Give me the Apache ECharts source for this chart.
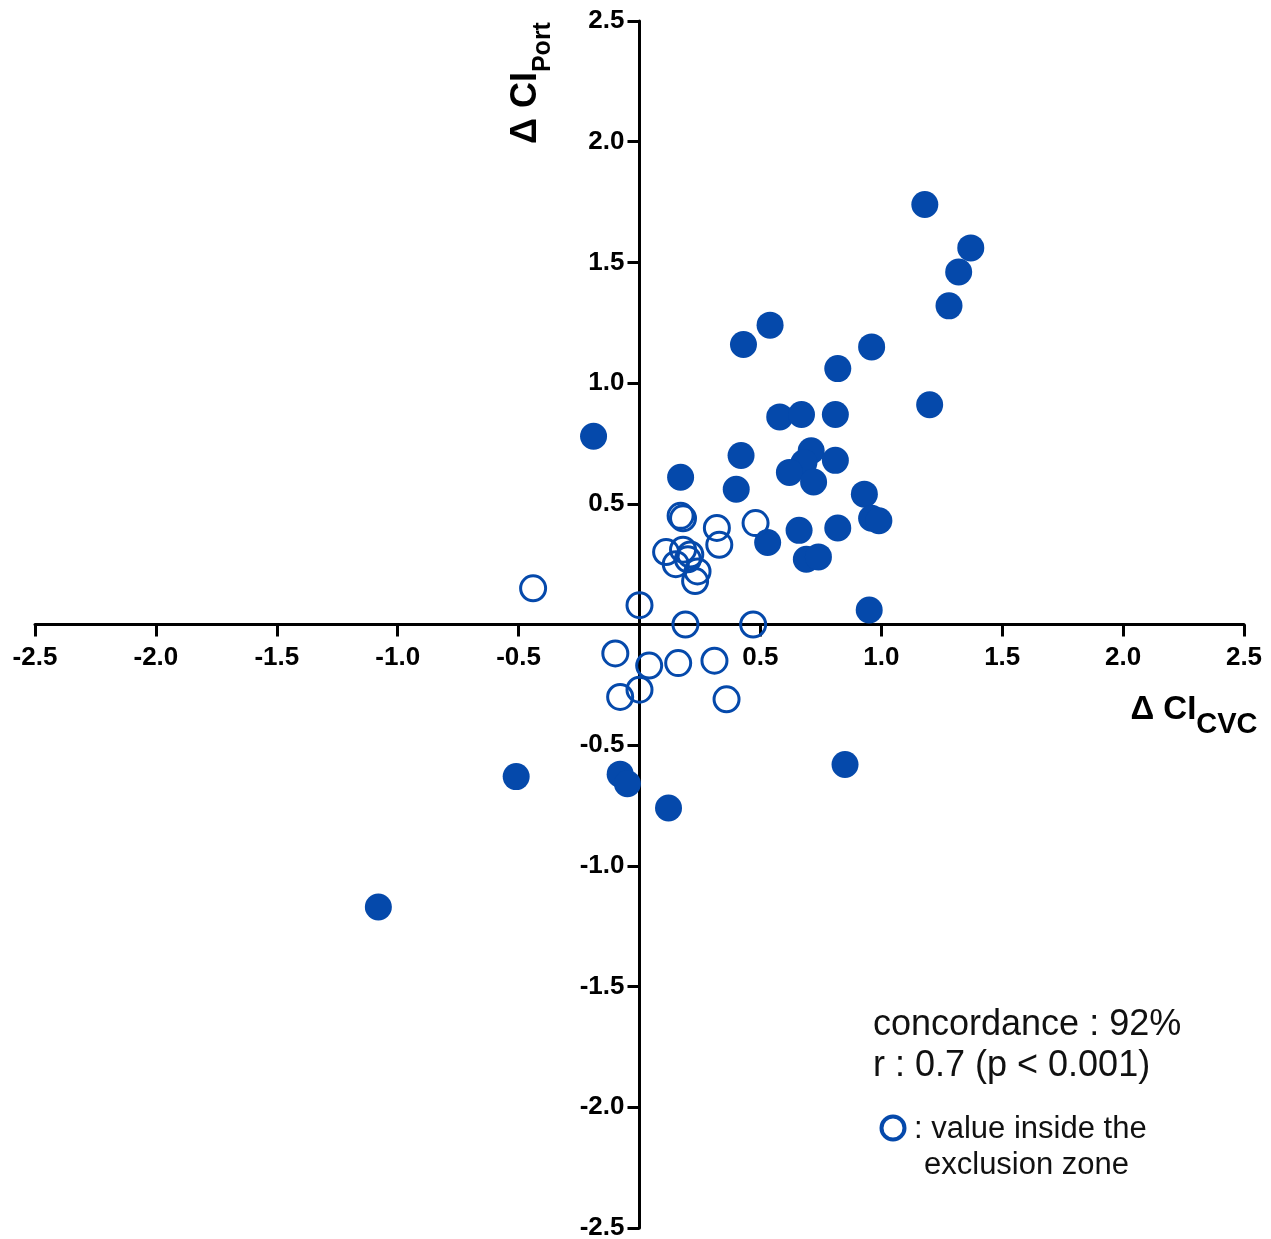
<!DOCTYPE html>
<html>
<head>
<meta charset="utf-8">
<script src="https://cdn.jsdelivr.net/npm/echarts@6/dist/echarts.min.js"></script>
<style>
html,body{margin:0;padding:0;background:#fff;}
#chart{width:1271px;height:1239px;}
</style>
</head>
<body>
<div id="chart"></div>
<script>
// Axis ticks
const xTicks = [-2.5, -2.0, -1.5, -1.0, -0.5, 0, 0.5, 1.0, 1.5, 2.0, 2.5];
const yTicks = [-2.5, -2.0, -1.5, -1.0, -0.5, 0, 0.5, 1.0, 1.5, 2.0, 2.5];

// Concordant changes outside the exclusion zone (filled dots): [ΔCI_CVC, ΔCI_Port]
const outsideZone = [
  [1.18, 1.74], [1.37, 1.56], [1.32, 1.46], [1.28, 1.32],
  [0.54, 1.24], [0.43, 1.16], [0.96, 1.15], [0.82, 1.06],
  [1.20, 0.91], [0.58, 0.86], [0.67, 0.87], [0.81, 0.87],
  [-0.19, 0.78], [0.42, 0.70], [0.71, 0.72], [0.81, 0.68],
  [0.68, 0.67], [0.62, 0.63], [0.72, 0.59], [0.17, 0.61],
  [0.40, 0.56], [0.93, 0.54], [0.96, 0.44], [0.99, 0.43],
  [0.82, 0.40], [0.66, 0.39], [0.53, 0.34], [0.69, 0.27],
  [0.74, 0.28], [0.95, 0.06],
  [-0.51, -0.63], [-0.08, -0.62], [-0.05, -0.66], [0.12, -0.76],
  [0.85, -0.58], [-1.08, -1.17]
];

// Values inside the exclusion zone (open circles)
const insideZone = [
  [-0.44, 0.15], [0.00, 0.08], [0.18, 0.44], [0.17, 0.45],
  [0.32, 0.40], [0.33, 0.33], [0.48, 0.42], [0.11, 0.30],
  [0.18, 0.31], [0.21, 0.29], [0.15, 0.25], [0.24, 0.22],
  [0.23, 0.18], [0.20, 0.27], [0.19, 0.00], [0.47, 0.00],
  [-0.10, -0.12], [0.04, -0.17], [0.16, -0.16], [0.31, -0.15],
  [0.00, -0.27], [-0.08, -0.30], [0.36, -0.31]
];

const annotations = ['concordance : 92%', 'r : 0.7 (p < 0.001)'];
const legendLines = [': value inside the', 'exclusion zone'];

const BLUE = '#0549ab';
const FONT = '"Liberation Sans", Arial, sans-serif';

const GRID = {left: 35, right: 27, top: 21, bottom: 11};
const W = 1271, H = 1239;
const plotW = W - GRID.left - GRID.right;
const plotH = H - GRID.top - GRID.bottom;

const chart = echarts.init(document.getElementById('chart'), null, {renderer: 'canvas'});

function fmt(v) {
  if (Math.abs(v) < 1e-9) return '';
  return v.toFixed(1);
}

const labelBase = {
  color: '#000', fontFamily: FONT, fontWeight: 'bold', fontSize: 26,
  formatter: fmt, showMinLabel: true, showMaxLabel: true
};

const axisCommon = {
  type: 'value',
  interval: 0.5,
  axisLine: {show: true, onZero: false, lineStyle: {color: '#000', width: 3}},
  axisTick: {show: true, length: 12, lineStyle: {color: '#000', width: 3}},
  splitLine: {show: false}
};

const option = {
  animation: false,
  backgroundColor: '#fff',
  grid: Object.assign({containLabel: false, outerBoundsMode: 'none'}, GRID),
  xAxis: Object.assign({}, axisCommon, {
    position: 'bottom',
    // move the axis up to y = 0 (middle of the symmetric range)
    offset: -plotH / 2,
    min: xTicks[0], max: xTicks[xTicks.length - 1],
    axisLabel: Object.assign({}, labelBase, {margin: 20})
  }),
  yAxis: Object.assign({}, axisCommon, {
    position: 'left',
    // move the axis right to x = 0 (middle of the symmetric range)
    offset: -plotW / 2,
    min: yTicks[0], max: yTicks[yTicks.length - 1],
    axisLabel: Object.assign({}, labelBase, {margin: 15})
  }),
  series: [
    {
      type: 'scatter', silent: true, data: outsideZone,
      symbol: 'circle', symbolSize: 27,
      itemStyle: {color: BLUE, opacity: 1}
    },
    {
      type: 'scatter', silent: true, data: insideZone,
      symbol: 'circle', symbolSize: 25,
      itemStyle: {color: 'rgba(0,0,0,0)', borderColor: BLUE, borderWidth: 3, opacity: 1}
    }
  ],
  graphic: [
    {
      type: 'text', silent: true,
      x: 1194, y: 716,
      style: {
        text: '{m|Δ CI}{s|CVC}',
        align: 'center', verticalAlign: 'middle',
        rich: {
          m: {fontFamily: FONT, fontWeight: 'bold', fontSize: 33, lineHeight: 46, verticalAlign: 'top', fill: '#000'},
          s: {fontFamily: FONT, fontWeight: 'bold', fontSize: 29, lineHeight: 29, verticalAlign: 'bottom', fill: '#000'}
        }
      }
    },
    {
      type: 'text', silent: true,
      x: 532, y: 83, rotation: Math.PI / 2,
      style: {
        text: '{m|Δ CI}{s|Port}',
        align: 'center', verticalAlign: 'middle',
        rich: {
          m: {fontFamily: FONT, fontWeight: 'bold', fontSize: 36, lineHeight: 48, verticalAlign: 'top', fill: '#000'},
          s: {fontFamily: FONT, fontWeight: 'bold', fontSize: 25, lineHeight: 25, verticalAlign: 'bottom', fill: '#000'}
        }
      }
    },
    {
      type: 'text', silent: true, x: 873, y: 1025.5,
      style: {text: annotations[0], fontFamily: FONT, fontSize: 36, fill: '#111', align: 'left', verticalAlign: 'middle'}
    },
    {
      type: 'text', silent: true, x: 873, y: 1066,
      style: {text: annotations[1], fontFamily: FONT, fontSize: 36, fill: '#111', align: 'left', verticalAlign: 'middle'}
    },
    {
      type: 'circle', silent: true,
      shape: {cx: 893, cy: 1128, r: 11.5},
      style: {fill: 'none', stroke: BLUE, lineWidth: 4}
    },
    {
      type: 'text', silent: true, x: 914, y: 1129,
      style: {text: legendLines[0], fontFamily: FONT, fontSize: 31, fill: '#111', align: 'left', verticalAlign: 'middle'}
    },
    {
      type: 'text', silent: true, x: 924, y: 1165,
      style: {text: legendLines[1], fontFamily: FONT, fontSize: 31, fill: '#111', align: 'left', verticalAlign: 'middle'}
    }
  ]
};

chart.setOption(option);
</script>
</body>
</html>
